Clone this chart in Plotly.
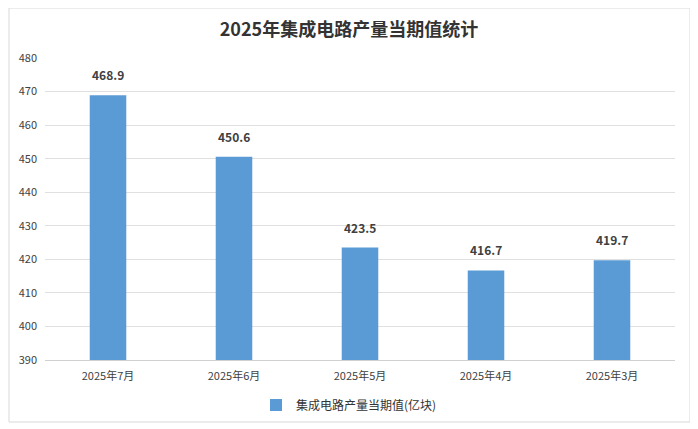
import plotly.graph_objects as go

categories = ["2025年7月", "2025年6月", "2025年5月", "2025年4月", "2025年3月"]
values = [468.9, 450.6, 423.5, 416.7, 419.7]
y_ticks = [390, 400, 410, 420, 430, 440, 450, 460, 470, 480]
series_name = "集成电路产量当期值(亿块)"
title = "2025年集成电路产量当期值统计"

FONT = "Noto Sans CJK SC, Microsoft YaHei, sans-serif"

# page body has an 8px default margin; figure is sized/placed to compensate
OFF = 8
W, H = 690, 421
L, R, T, B = 37, 23, 50, 69
pw, ph = W - L - R, H - T - B

def px(x):  # screen px -> paper
    return (x - OFF - L) / pw

def py(y):  # screen px -> paper
    return (H - B - (y - OFF)) / ph

fig = go.Figure()
fig.add_trace(go.Bar(
    x=categories, y=values, name=series_name,
    marker=dict(color="#5B9BD5", line=dict(width=0)),
    width=0.29,
))

for c, v in zip(categories, values):
    fig.add_annotation(x=c, y=v, text=f"<b>{v:.1f}</b>", showarrow=False,
                       yanchor="bottom", yshift=10,
                       font=dict(size=12, color="#404040", family=FONT))

fig.update_layout(
    width=W, height=H,
    margin=dict(l=L, r=R, t=T, b=B, autoexpand=False),
    paper_bgcolor="white", plot_bgcolor="white",
    font=dict(family=FONT, color="#404040", size=12),
    title=dict(text=f"<b>{title}</b>", x=0.5 + (349 - OFF - W / 2) / W, xanchor="center",
               y=1 - (30 - OFF) / H, yanchor="middle",
               font=dict(size=18, color="#333333", family=FONT)),
    showlegend=True,
    legend=dict(orientation="h", x=px(349), xanchor="center", y=py(405),
                yanchor="middle", itemwidth=30,
                font=dict(size=12, color="#333333", family=FONT), bgcolor="rgba(0,0,0,0)"),
    shapes=[dict(type="rect", xref="paper", yref="paper",
                 x0=px(9), x1=px(690), y0=py(422), y1=py(8),
                 line=dict(color="#D9D9D9", width=1), fillcolor="rgba(0,0,0,0)", layer="below")],
)
fig.update_yaxes(range=[390, 480], tickvals=y_ticks, showgrid=True, gridcolor="#E0E0E0",
                 gridwidth=1, zeroline=False, showline=False, ticks="", automargin=False,
                 tickfont=dict(size=11, color="#404040"), ticklabelstandoff=7)
fig.update_xaxes(showline=True, linecolor="#D0D0D0", linewidth=1, ticks="", automargin=False,
                 tickfont=dict(size=11, color="#404040"), ticklabelstandoff=6)

fig.write_html("out.html")
